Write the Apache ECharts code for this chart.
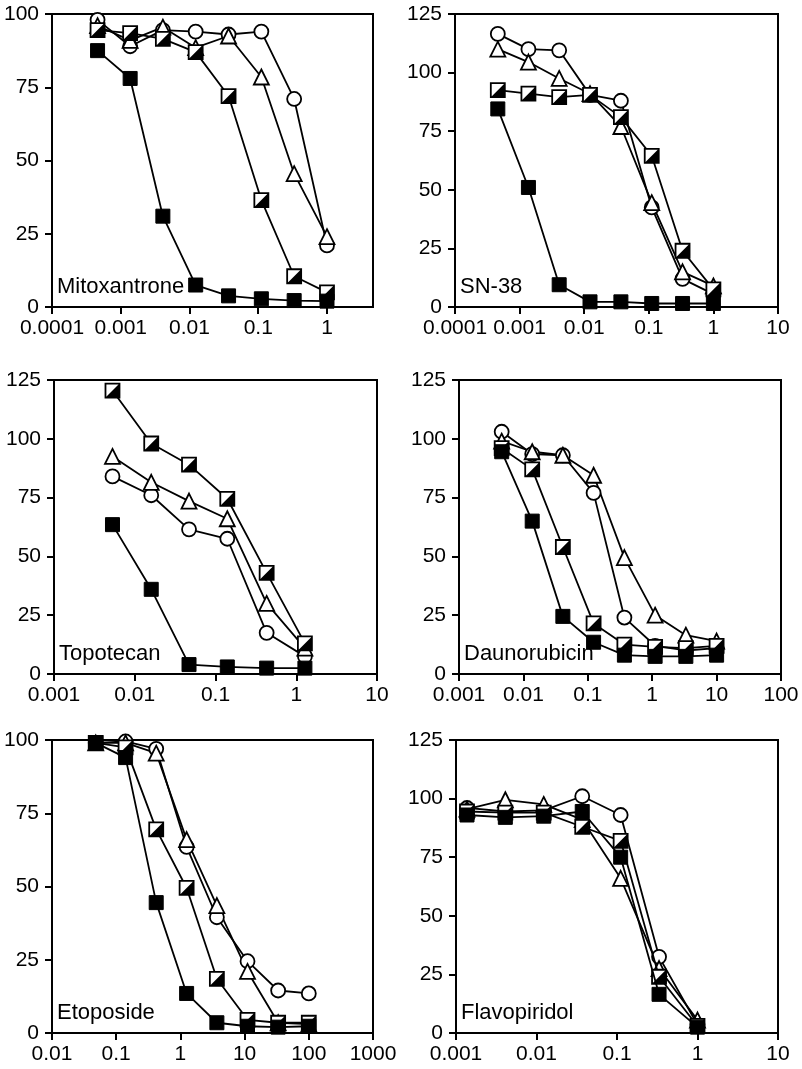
<!DOCTYPE html>
<html>
<head>
<meta charset="utf-8">
<script src="https://cdn.jsdelivr.net/npm/echarts@6/dist/echarts.min.js"></script>
<style>
html,body{margin:0;padding:0;background:#fff;}
#chart{width:802px;height:1069px;}
</style>
</head>
<body>
<div id="chart"></div>
<script>
// ---------------- data ----------------
// Panel titles
const panelNames = ['Mitoxantrone', 'SN-38', 'Topotecan', 'Daunorubicin', 'Etoposide', 'Flavopiridol'];

// Mitoxantrone
const mitoX      = [0.00046, 0.00137, 0.0041, 0.0123, 0.037, 0.111, 0.333, 1];
const mitoFilled = [87.5, 78, 31, 7.5, 3.8, 2.8, 2.2, 2];
const mitoHalf   = [94.5, 93.5, 91.5, 87, 72, 36.5, 10.5, 5];
const mitoTri    = [96, 91, 95.5, 88.5, 92.5, 78.5, 45.5, 24];
const mitoCirc   = [98, 89, 94.5, 94, 93, 94, 71, 21];

// SN-38
const snX      = [0.00046, 0.00137, 0.0041, 0.0123, 0.037, 0.111, 0.333, 1];
const snFilled = [84.5, 51, 9.5, 2.2, 2.2, 1.5, 1.5, 1.5];
const snHalf   = [92.5, 91, 89.5, 90.5, 81, 64.5, 24, 7.5];
const snTri    = [110, 104.5, 97.5, 91, 77, 44.5, 15, 9];
const snCirc   = [116.5, 110, 109.5, 90.5, 88, 42.5, 12, 5.5];

// Topotecan
const topoX      = [0.0053, 0.016, 0.047, 0.14, 0.43, 1.28];
const topoFilled = [63.5, 36, 4, 3, 2.5, 2.5];
const topoHalf   = [120.5, 98, 89, 74.5, 43, 13];
const topoTri    = [92.5, 81.5, 73.5, 66, 30, 11];
const topoCirc   = [84, 76, 61.5, 57.5, 17.5, 7.5];

// Daunorubicin
const daunoX      = [0.0046, 0.0137, 0.041, 0.123, 0.37, 1.11, 3.33, 10];
const daunoFilled = [94.5, 65, 24.5, 13.5, 8, 7.5, 7.5, 8];
const daunoHalf   = [96, 87, 54, 21.5, 12.5, 11.5, 11, 12];
const daunoTri    = [99, 94.5, 93, 84.5, 49.5, 25, 16.5, 14];
const daunoCirc   = [103, 93.5, 93, 77, 24, 12, 10, 11];

// Etoposide
const etoX      = [0.048, 0.14, 0.42, 1.25, 3.7, 11.1, 33.3, 100];
const etoFilled = [99, 94, 44.5, 13.5, 3.5, 2.3, 2, 2.3];
const etoHalf   = [99, 97.5, 69.5, 49.5, 18.5, 4.5, 3.5, 3.5];
const etoTri    = [99, 99, 95.5, 66, 43.5, 21, 3.5, 3];
const etoCirc   = [99, 99.5, 97, 63.5, 39.5, 24.5, 14.5, 13.5];

// Flavopiridol
const flavoX      = [0.00137, 0.0041, 0.0123, 0.037, 0.111, 0.333, 1];
const flavoFilled = [93, 92, 92.5, 94.5, 75, 16.5, 2.5];
const flavoHalf   = [94.5, 94, 94, 88, 82, 24, 3];
const flavoTri    = [95.5, 99.5, 97.5, 91, 66, 27.5, 5.5];
const flavoCirc   = [96, 94.5, 95, 101, 93, 32.5, 3.5];

// Axis ticks
const xTicks1 = [0.0001, 0.001, 0.01, 0.1, 1];
const xTicks2 = [0.0001, 0.001, 0.01, 0.1, 1, 10];
const xTicks3 = [0.001, 0.01, 0.1, 1, 10];
const xTicks4 = [0.001, 0.01, 0.1, 1, 10, 100];
const xTicks5 = [0.01, 0.1, 1, 10, 100, 1000];
const xTicks6 = [0.001, 0.01, 0.1, 1, 10];
const xTickLabels = {'-4': '0.0001', '-3': '0.001', '-2': '0.01', '-1': '0.1', '0': '1', '1': '10', '2': '100', '3': '1000'};
const xMax1 = 4.67;   // Mitoxantrone axis ends before 10
const yMax = [100, 125, 125, 125, 100, 125];

// ---------------- layout ----------------
const grids = [
  {left: 52,  top: 14,  width: 321, height: 293},
  {left: 455, top: 14,  width: 323, height: 293},
  {left: 54,  top: 380, width: 323, height: 294},
  {left: 459, top: 380, width: 322, height: 294},
  {left: 52,  top: 740, width: 321, height: 293},
  {left: 456, top: 740, width: 322, height: 293}
];

const panels = [
  {x: mitoX,  f: mitoFilled,  h: mitoHalf,  t: mitoTri,  c: mitoCirc,  ticks: xTicks1, max: xMax1},
  {x: snX,    f: snFilled,    h: snHalf,    t: snTri,    c: snCirc,    ticks: xTicks2},
  {x: topoX,  f: topoFilled,  h: topoHalf,  t: topoTri,  c: topoCirc,  ticks: xTicks3},
  {x: daunoX, f: daunoFilled, h: daunoHalf, t: daunoTri, c: daunoCirc, ticks: xTicks4},
  {x: etoX,   f: etoFilled,   h: etoHalf,   t: etoTri,   c: etoCirc,   ticks: xTicks5},
  {x: flavoX, f: flavoFilled, h: flavoHalf, t: flavoTri, c: flavoCirc, ticks: xTicks6}
];

const FONT = '"Liberation Sans", Arial, Helvetica, sans-serif';
const BLACK = '#000';

const option = {
  animation: false,
  backgroundColor: '#fff',
  title: [],
  grid: [],
  xAxis: [],
  yAxis: [],
  series: []
};

panels.forEach((p, i) => {
  const g = grids[i];
  option.grid.push({
    left: g.left, top: g.top, width: g.width, height: g.height,
    show: true, borderColor: BLACK, borderWidth: 2, backgroundColor: 'transparent'
  });
  const tickLogs = p.ticks.map(v => Math.round(Math.log10(v)));
  const xmin = tickLogs[0];
  const xmax = p.max !== undefined ? Math.log10(p.max) : tickLogs[tickLogs.length - 1];
  option.xAxis.push({
    type: 'value', gridIndex: i, min: xmin, max: xmax, position: 'bottom',
    axisLine: {show: true, onZero: false, lineStyle: {color: BLACK, width: 2}},
    axisTick: {show: true, length: 7, lineStyle: {color: BLACK, width: 2}, customValues: tickLogs},
    axisLabel: {
      show: true, margin: 11, fontSize: 21, color: BLACK, fontFamily: FONT,
      customValues: tickLogs,
      formatter: v => xTickLabels[String(Math.round(v))]
    },
    splitLine: {show: false}
  });
  option.yAxis.push({
    type: 'value', gridIndex: i, min: 0, max: yMax[i], interval: 25, position: 'left',
    axisLine: {show: true, onZero: false, lineStyle: {color: BLACK, width: 2}},
    axisTick: {show: true, length: 7, lineStyle: {color: BLACK, width: 2}},
    axisLabel: {show: true, margin: 13, fontSize: 21, color: BLACK, fontFamily: FONT},
    splitLine: {show: false}
  });
  option.title.push({
    text: panelNames[i],
    left: g.left + 5,
    top: g.top + g.height - 31,
    padding: 0,
    textStyle: {fontSize: 22, fontWeight: 'normal', color: BLACK, fontFamily: FONT}
  });

  const toData = ys => p.x.map((x, k) => [Math.log10(x), ys[k]]);
  const base = {
    type: 'line', xAxisIndex: i, yAxisIndex: i, showSymbol: true,
    lineStyle: {color: BLACK, width: 1.8},
    emphasis: {disabled: true}, silent: true
  };
  // open circles
  option.series.push(Object.assign({}, base, {
    name: 'circle' + i, data: toData(p.c), symbol: 'circle', symbolSize: 14, z: 2,
    itemStyle: {color: '#fff', borderColor: BLACK, borderWidth: 1.8}
  }));
  // open triangles
  option.series.push(Object.assign({}, base, {
    name: 'triangle' + i, data: toData(p.t), symbol: 'triangle', symbolSize: 15, z: 2,
    itemStyle: {color: '#fff', borderColor: BLACK, borderWidth: 1.8}
  }));
  // half-filled squares (white square + black lower-right half on top)
  option.series.push(Object.assign({}, base, {
    name: 'half' + i, data: toData(p.h), symbol: 'rect', symbolSize: 14, z: 3,
    itemStyle: {color: '#fff', borderColor: BLACK, borderWidth: 1.8}
  }));
  option.series.push({
    type: 'scatter', xAxisIndex: i, yAxisIndex: i, silent: true, z: 4,
    name: 'halfFill' + i, data: toData(p.h),
    symbol: 'path://M1,0L1,1L0,1Z', symbolSize: 14,
    itemStyle: {color: BLACK, opacity: 1}, emphasis: {disabled: true}
  });
  // filled squares
  option.series.push(Object.assign({}, base, {
    name: 'filled' + i, data: toData(p.f), symbol: 'rect', symbolSize: 14, z: 5,
    itemStyle: {color: BLACK, borderColor: BLACK, borderWidth: 1}
  }));
});

const chart = echarts.init(document.getElementById('chart'), null, {renderer: 'canvas'});
chart.setOption(option);
</script>
</body>
</html>
